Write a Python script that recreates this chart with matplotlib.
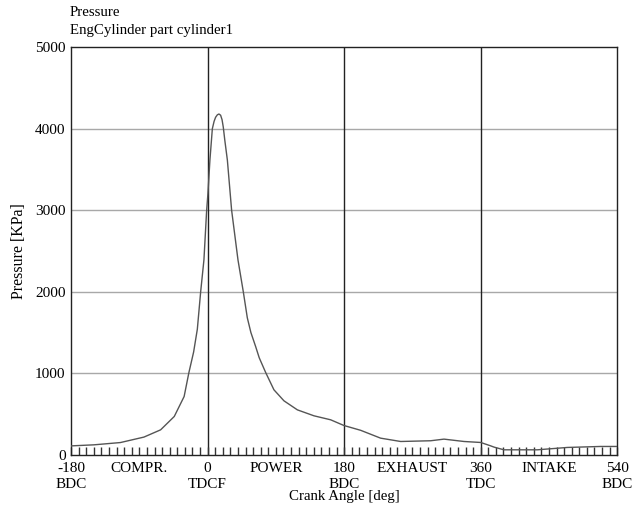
import matplotlib

matplotlib.use("Agg")

import matplotlib.pyplot as plt
import numpy as np

# crank angle (deg) and cylinder pressure (kPa)
crank_deg = [
    -180, -178, -150, -115, -84, -62, -44, -31, -24.7, -18.5, -13.6, -9.2, -4.9,
    -1.3, 0.4, 3.0, 6.2, 8.5, 10.5, 12.8, 14.9, 17.1, 19.0, 20.6, 22.6, 26,
    31.6, 40, 47, 52.3, 57, 63.3, 68, 76.5, 87.4, 100.6, 118.3, 140.2,
    162.2, 179.7, 201.8, 228, 254.5, 294, 311.6, 338, 360, 373, 377.6, 390.7,
    434.8, 474.4, 518, 540,
]
pressure_kpa = [
    108, 110, 122, 150, 217, 306, 470, 715, 1009, 1260, 1540, 2000, 2390,
    3000, 3207, 3615, 4000, 4090, 4140, 4170, 4180, 4165, 4110, 4020, 3860, 3615,
    3000, 2390, 2000, 1680, 1500, 1327, 1190, 1009, 797, 662, 551, 478,
    429, 359, 300, 204, 163, 172, 192, 163, 151, 110, 94, 61,
    61, 90, 102, 102,
]

major_ticks = [-180, -90, 0, 90, 180, 270, 360, 450, 540]
major_labels = ["-180\nBDC", "COMPR.", "0\nTDCF", "POWER", "180\nBDC",
                "EXHAUST", "360\nTDC", "INTAKE", "540\nBDC"]
y_ticks = [0, 1000, 2000, 3000, 4000, 5000]
stroke_lines = [0, 180, 360]

plt.rcParams["font.family"] = ["Liberation Serif", "DejaVu Serif"]

fig = plt.figure(figsize=(6.35, 5.07), dpi=100)
ax = fig.add_axes([0.112, 0.103, 0.860, 0.804])

for y in y_ticks[1:-1]:
    ax.axhline(y, color="#a8a8a8", linewidth=1.0, zorder=1)
for x in stroke_lines:
    ax.axvline(x, color="#222222", linewidth=1.0, zorder=1)

ax.plot(crank_deg, pressure_kpa, color="#555555", linewidth=1.0, zorder=3)

ax.set_xlim(-180, 540)
ax.set_ylim(0, 5000)

ax.set_xticks(major_ticks)
ax.set_xticklabels(major_labels, fontsize=11, linespacing=1.35)
ax.set_xticks(np.arange(-180, 541, 10), minor=True)
ax.tick_params(axis="x", which="both", direction="in", length=6, width=1,
               color="#333333", pad=5, top=False)
ax.set_yticks(y_ticks)
ax.set_yticklabels([str(v) for v in y_ticks], fontsize=11)
ax.tick_params(axis="y", length=0, pad=4)

for side in ["left", "bottom", "top", "right"]:
    ax.spines[side].set_color("#222222")
    ax.spines[side].set_linewidth(1.0)

ax.set_xlabel("Crank Angle [deg]", fontsize=10.7, labelpad=-1)
ax.set_ylabel("Pressure [KPa]", fontsize=11.5, labelpad=6)

fig.text(0.110, 0.963, "Pressure", fontsize=10.7, ha="left", va="bottom")
fig.text(0.110, 0.927, "EngCylinder part cylinder1", fontsize=10.7,
         ha="left", va="bottom")

fig.savefig("out.png", dpi=100)
plt.close(fig)
